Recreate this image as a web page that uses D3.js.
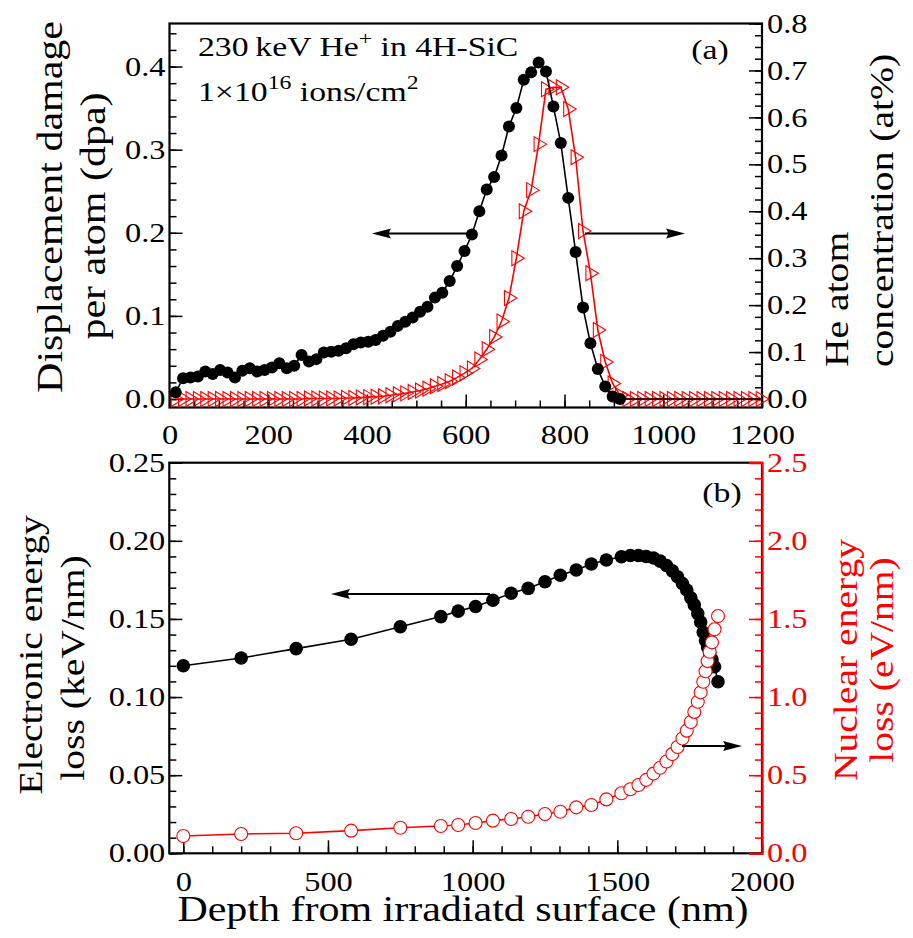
<!DOCTYPE html>
<html><head><meta charset="utf-8">
<script src="https://cdn.jsdelivr.net/npm/d3@7"></script>
<style>body{margin:0;background:#fff} svg{display:block} text{font-family:"Liberation Serif","DejaVu Serif",serif}</style>
</head><body>
<svg id="chart" width="913" height="938"></svg>
<script>
// ---------------- DATA ----------------
// Panel (a): depth (nm), displacement damage (dpa), He concentration (at%)
const depthA = [12.5, 27.5, 42.5, 57.5, 72.5, 87.5, 102.5, 117.5, 132.5, 147.5,
  162.5, 177.5, 192.5, 207.5, 222.5, 237.5, 252.5, 267.5, 282.5, 297.5,
  312.5, 327.5, 342.5, 357.5, 372.5, 387.5, 402.5, 417.5, 432.5, 447.5,
  462.5, 477.5, 492.5, 507.5, 522.5, 537.5, 552.5, 567.5, 582.5, 597.5,
  612.5, 627.5, 642.5, 657.5, 672.5, 687.5, 702.5, 717.5, 732.5, 747.5,
  762.5, 777.5, 792.5, 807.5, 822.5, 837.5, 852.5, 867.5, 882.5, 897.5,
  912.5, 927.5, 942.5, 957.5, 972.5, 987.5, 1002.5, 1017.5, 1032.5, 1047.5,
  1062.5, 1077.5, 1092.5, 1107.5, 1122.5, 1137.5, 1152.5, 1167.5, 1182.5, 1197.5];
const dpa = [0.008, 0.025, 0.026, 0.027, 0.033, 0.030, 0.035, 0.032, 0.026, 0.034,
  0.037, 0.033, 0.035, 0.038, 0.043, 0.037, 0.040, 0.053, 0.045, 0.048,
  0.056, 0.057, 0.058, 0.061, 0.066, 0.068, 0.069, 0.071, 0.076, 0.081,
  0.088, 0.093, 0.098, 0.105, 0.111, 0.122, 0.128, 0.142, 0.160, 0.178,
  0.198, 0.226, 0.252, 0.267, 0.293, 0.328, 0.350, 0.384, 0.393, 0.405,
  0.394, 0.352, 0.308, 0.242, 0.177, 0.110, 0.067, 0.036, 0.015, 0.003,
  0, 0, 0, 0, 0, 0, 0, 0, 0, 0,
  0, 0, 0, 0, 0, 0, 0, 0, 0, 0];
const heConc = [0, 0, 0, 0, 0, 0, 0, 0, 0, 0,
  0, 0, 0, 0, 0, 0, 0, 0, 0.001, 0.001,
  0.001, 0.001, 0.001, 0.002, 0.002, 0.003, 0.004, 0.005, 0.006, 0.008,
  0.010, 0.012, 0.015, 0.018, 0.022, 0.027, 0.032, 0.038, 0.046, 0.055,
  0.065, 0.084, 0.106, 0.132, 0.165, 0.215, 0.300, 0.400, 0.445, 0.543,
  0.660, 0.664, 0.664, 0.618, 0.515, 0.358, 0.268, 0.147, 0.079, 0.033,
  0.008, 0, 0, 0, 0, 0, 0, 0, 0, 0,
  0, 0, 0, 0, 0, 0, 0, 0, 0, 0];

// Panel (b): depth (nm), electronic energy loss (keV/nm), nuclear energy loss (eV/nm)
const depthB = [0, 200, 390, 580, 750, 890, 950, 1010, 1070, 1133, 1192, 1250, 1303,
  1358, 1410, 1462, 1514, 1545, 1573, 1600, 1625, 1648, 1670, 1690, 1708, 1725,
  1740, 1754, 1766, 1778, 1788, 1797, 1805, 1812, 1819, 1827, 1836, 1848];
const elecLoss = [0.120, 0.125, 0.131, 0.137, 0.145, 0.1515, 0.155, 0.158, 0.162, 0.1664,
  0.1696, 0.1738, 0.178, 0.1813, 0.1852, 0.1877, 0.1898, 0.1906, 0.1906, 0.1900,
  0.1890, 0.1870, 0.1842, 0.1808, 0.1770, 0.1727, 0.1685, 0.1635, 0.1590, 0.1535,
  0.1480, 0.1415, 0.1360, 0.1320, 0.1280, 0.1240, 0.1194, 0.1098];
const nuclLoss = [0.111, 0.124, 0.128, 0.145, 0.164, 0.175, 0.181, 0.194, 0.209, 0.220,
  0.234, 0.252, 0.266, 0.294, 0.309, 0.345, 0.384, 0.410, 0.437, 0.470,
  0.510, 0.548, 0.588, 0.635, 0.680, 0.735, 0.785, 0.840, 0.905, 0.970,
  1.030, 1.098, 1.165, 1.230, 1.290, 1.350, 1.434, 1.519];

// Tick values
const xTicksA = [0, 200, 400, 600, 800, 1000, 1200];
const yTicksAL = [0.0, 0.1, 0.2, 0.3, 0.4];
const yTicksAR = [0.0, 0.1, 0.2, 0.3, 0.4, 0.5, 0.6, 0.7, 0.8];
const xTicksB = [0, 500, 1000, 1500, 2000];
const yTicksBL = [0.00, 0.05, 0.10, 0.15, 0.20, 0.25];
const yTicksBR = [0.0, 0.5, 1.0, 1.5, 2.0, 2.5];

// Text
const titleAL = ["Displacement damage", "per atom (dpa)"];
const titleAR = ["He atom", "concentration (at%)"];
const titleBL = ["Electronic energy", "loss (keV/nm)"];
const titleBR = ["Nuclear energy", "loss (eV/nm)"];
const xTitle = "Depth from irradiatd surface (nm)";

// ---------------- LAYOUT ----------------
const RED = "#ff0000";
const SX = 1.2;       // horizontal stretch of text
const FT = 27;        // tick font size
const FL = 35;        // title font size
const FR = 33;        // right title font size
const FBL = 33;       // panel b left title font size
const FN = 27;        // annotation font size
const MAJ = 13, MIN = 7;

const svg = d3.select("#chart");
function range(a, b, s) { const r = []; for (let v = a; v <= b + 1e-9; v += s) r.push(+v.toFixed(6)); return r; }

function addText(g, x, y, o = {}) {
  const sx = o.sx || SX;
  return g.append("text")
    .attr("transform", `translate(${x},${y}) rotate(${o.rot || 0}) scale(${sx},1)`)
    .attr("text-anchor", o.anchor || "start")
    .attr("font-size", o.size || FL)
    .attr("fill", o.color || "#000");
}

function styleTicks(sel, color) {
  sel.selectAll(".tick line").attr("stroke", color).attr("stroke-width", 1.5);
  sel.selectAll(".tick text").attr("fill", color).attr("font-size", FT)
    .attr("font-family", '"Liberation Serif",serif')
    .each(function () {
      const t = d3.select(this);
      const x = +t.attr("x") || 0;
      t.attr("x", x / SX).attr("transform", `scale(${SX},1)`);
    });
}

function drawAxis(g, axisFn, scale, major, minor, fmt, color, pad, transform, keepDomain) {
  const gMin = g.append("g").attr("transform", transform)
    .call(axisFn(scale).tickValues(minor).tickSizeInner(-MIN).tickSizeOuter(0).tickFormat(""));
  gMin.select(".domain").remove();
  styleTicks(gMin, color);
  const gMaj = g.append("g").attr("transform", transform)
    .call(axisFn(scale).tickValues(major).tickSizeInner(-MAJ).tickSizeOuter(keepDomain ? -MAJ : 0)
      .tickPadding(pad).tickFormat(fmt));
  if (!keepDomain) gMaj.select(".domain").remove();
  else gMaj.select(".domain").attr("stroke", color).attr("stroke-width", 2.2);
  styleTicks(gMaj, color);
  return gMaj;
}

function arrow(g, x1, x2, y) {
  const d = x2 > x1 ? 1 : -1, L = 19, w = 5;
  g.append("line").attr("x1", x1).attr("x2", x2 - d * 8).attr("y1", y).attr("y2", y)
    .attr("stroke", "#000").attr("stroke-width", 1.8);
  g.append("path")
    .attr("d", `M${x2},${y} L${x2 - d * L},${y - w} Q${x2 - d * L * 0.8},${y} ${x2 - d * L},${y + w} Z`)
    .attr("fill", "#000");
}

// ---------------- PANEL A ----------------
const A = { l: 169.5, r: 762, t: 23.5, b: 407.5 };
const xA = d3.scaleLinear().domain([0, 1200]).range([A.l, A.r]);
const yAL = d3.scaleLinear().domain([-0.0102, 0.4518]).range([A.b, A.t]);
const yAR = d3.scaleLinear().domain([-0.0181, 0.8]).range([A.b, A.t]);
const gA = svg.append("g");

drawAxis(gA, d3.axisLeft, yAL, yTicksAL, range(0, 0.44, 0.02), d3.format(".1f"), "#000", 4, `translate(${A.l},0)`);
drawAxis(gA, d3.axisRight, yAR, yTicksAR, range(0, 0.8, 0.025), d3.format(".1f"), "#000", 5, `translate(${A.r},0)`);
drawAxis(gA, d3.axisBottom, xA, xTicksA, range(0, 1200, 50), d3.format("d"), "#000", 17, `translate(0,${A.b})`);

gA.append("rect").attr("x", A.l).attr("y", A.t).attr("width", A.r - A.l).attr("height", A.b - A.t)
  .attr("fill", "none").attr("stroke", "#000").attr("stroke-width", 2.2);

const clipA = gA.append("g");
// He concentration (red triangles)
clipA.append("path").datum(depthA.map((d, i) => [d, heConc[i]]))
  .attr("d", d3.line().x(d => xA(d[0])).y(d => yAR(d[1])))
  .attr("fill", "none").attr("stroke", RED).attr("stroke-width", 1.6);
clipA.selectAll(".tri").data(depthA.map((d, i) => [d, heConc[i]])).enter().append("path")
  .attr("transform", d => `translate(${xA(d[0])},${yAR(d[1])})`)
  .attr("d", "M-4.5,-7.5 L8,0 L-4.5,7.5 Z")
  .attr("fill", "none").attr("stroke", RED).attr("stroke-width", 1.1);
// dpa (black dots)
clipA.append("path").datum(depthA.map((d, i) => [d, dpa[i]]))
  .attr("d", d3.line().x(d => xA(d[0])).y(d => yAL(d[1])))
  .attr("fill", "none").attr("stroke", "#000").attr("stroke-width", 1.6);
clipA.selectAll(".dot").data(depthA.map((d, i) => [d, dpa[i]]).filter(d => d[1] > 0.0001 || d[0] < 920)).enter()
  .append("circle").attr("cx", d => xA(d[0])).attr("cy", d => yAL(d[1])).attr("r", 6).attr("fill", "#000");

arrow(gA, 467, 372, 233.5);
arrow(gA, 585, 685, 233.5);

const t1 = addText(gA, 198, 56, { size: FN, sx: 1.25 });
t1.append("tspan").text("230\u2009keV He");
t1.append("tspan").attr("dy", -11).attr("font-size", 19).text("+");
t1.append("tspan").attr("dy", 11).text(" in 4H-SiC");
const t2 = addText(gA, 198, 101, { size: FN, sx: 1.25 });
t2.append("tspan").text("1\u00d710");
t2.append("tspan").attr("dy", -12).attr("font-size", 19).text("16");
t2.append("tspan").attr("dy", 12).text(" ions/cm");
t2.append("tspan").attr("dy", -12).attr("font-size", 19).text("2");
addText(gA, 710, 59, { size: FN, anchor: "middle", sx: 1.25 }).text("(a)");

addText(gA, 62, 207, { rot: -90, anchor: "middle" }).text(titleAL[0]);
addText(gA, 105, 216, { rot: -90, anchor: "middle" }).text(titleAL[1]);
addText(gA, 848, 367, { rot: -90, anchor: "start", size: FR }).text(titleAR[0]);
addText(gA, 893, 367, { rot: -90, anchor: "start", size: FR }).text(titleAR[1]);

// ---------------- PANEL B ----------------
const B = { l: 169.3, r: 762, t: 462.7, b: 853.3 };
const xB = d3.scaleLinear().domain([-48.4, 2000]).range([B.l, B.r]);
const yBL = d3.scaleLinear().domain([0, 0.25]).range([B.b, B.t]);
const yBR = d3.scaleLinear().domain([0, 2.5]).range([B.b, B.t]);
const gB = svg.append("g");

drawAxis(gB, d3.axisLeft, yBL, yTicksBL, range(0, 0.25, 0.01), d3.format(".2f"), "#000", 4, `translate(${B.l},0)`);
drawAxis(gB, d3.axisBottom, xB, xTicksB, range(0, 2000, 100), d3.format("d"), "#000", 19, `translate(0,${B.b})`);
gB.append("rect").attr("x", B.l).attr("y", B.t).attr("width", B.r - B.l).attr("height", B.b - B.t)
  .attr("fill", "none").attr("stroke", "#000").attr("stroke-width", 2.2);
drawAxis(gB, d3.axisRight, yBR, yTicksBR, range(0, 2.5, 0.1), d3.format(".1f"), RED, 5, `translate(${B.r},0)`, true);

// electronic (black dots)
gB.append("path").datum(depthB.map((d, i) => [d, elecLoss[i]]))
  .attr("d", d3.line().x(d => xB(d[0])).y(d => yBL(d[1])))
  .attr("fill", "none").attr("stroke", "#000").attr("stroke-width", 1.6);
gB.selectAll(".edot").data(depthB.map((d, i) => [d, elecLoss[i]])).enter()
  .append("circle").attr("cx", d => xB(d[0])).attr("cy", d => yBL(d[1])).attr("r", 6.8).attr("fill", "#000");
// nuclear (red open circles)
gB.append("path").datum(depthB.map((d, i) => [d, nuclLoss[i]]))
  .attr("d", d3.line().x(d => xB(d[0])).y(d => yBR(d[1])))
  .attr("fill", "none").attr("stroke", RED).attr("stroke-width", 1.6);
gB.selectAll(".ndot").data(depthB.map((d, i) => [d, nuclLoss[i]])).enter()
  .append("circle").attr("cx", d => xB(d[0])).attr("cy", d => yBR(d[1])).attr("r", 6.5)
  .attr("fill", "#fff").attr("stroke", RED).attr("stroke-width", 1.1);

arrow(gB, 490, 331, 594);
arrow(gB, 682, 742, 746);
addText(gB, 722, 502, { size: FN, anchor: "middle", sx: 1.25 }).text("(b)");

addText(gB, 42, 655, { rot: -90, anchor: "middle", size: FBL }).text(titleBL[0]);
addText(gB, 84, 668, { rot: -90, anchor: "middle", size: FBL }).text(titleBL[1]);
addText(gB, 857, 660, { rot: -90, anchor: "middle", color: RED, size: FR }).text(titleBR[0]);
addText(gB, 893, 660, { rot: -90, anchor: "middle", color: RED, size: FR }).text(titleBR[1]);

addText(svg, 463, 921, { anchor: "middle" }).text(xTitle);
</script>
</body></html>
